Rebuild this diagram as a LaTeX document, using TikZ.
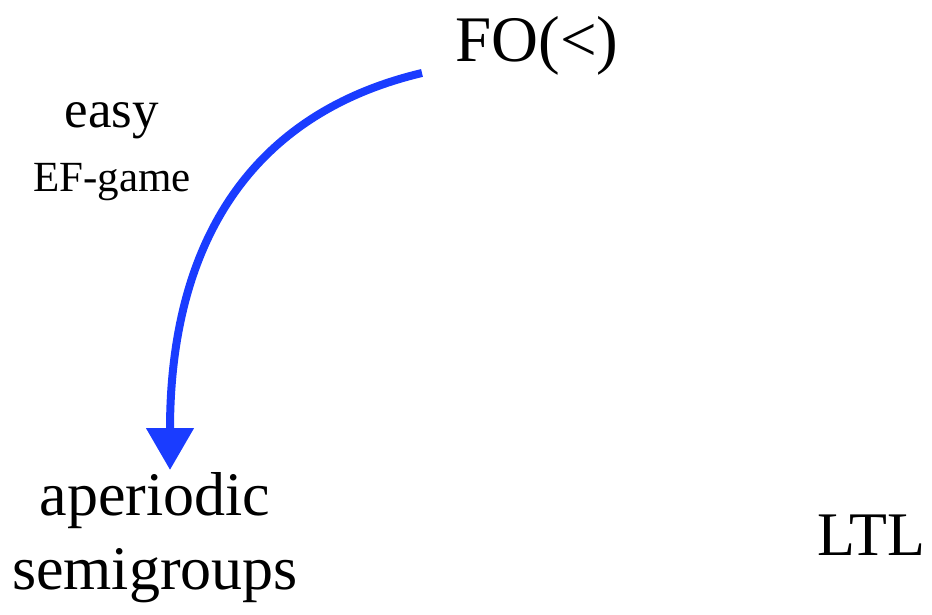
\documentclass[tikz,border=0pt]{standalone}
\usepackage{fontspec}
\setmainfont{Liberation Serif}
\usetikzlibrary{arrows.meta}
\definecolor{arrowblue}{HTML}{1A3CFF}
\tikzset{
  lbl/.style={inner sep=0pt, anchor=base},
  bigtxt/.style={lbl, font=\fontsize{62}{74}\selectfont},
  midtxt/.style={lbl, font=\fontsize{53}{60}\selectfont},
  smalltxt/.style={lbl, font=\fontsize{43}{48}\selectfont},
  blueedge/.style={draw=arrowblue, line width=8pt, -{Triangle[length=42pt,width=46pt]}}
}
\begin{document}
\begin{tikzpicture}[x=1pt,y=-1pt]
\useasboundingbox (0,0) rectangle (932,615);
\node[bigtxt, font=\fontsize{65}{74}\selectfont] (fo) at (537,62) {FO(<)};
\node[midtxt] (easy) at (112,128) {easy};
\node[smalltxt] (ef) at (112,192) {EF-game};
\node[bigtxt] (ap) at (155,515) {aperiodic};
\node[bigtxt] (sg) at (155,589) {semigroups};
\node[bigtxt] (ltl) at (871,555) {LTL};
\coordinate (s) at (422,73);
\coordinate (t) at (170,470);
\draw[blueedge] (s) .. controls (245,115) and (170,250) .. (t);
\end{tikzpicture}
\end{document}
